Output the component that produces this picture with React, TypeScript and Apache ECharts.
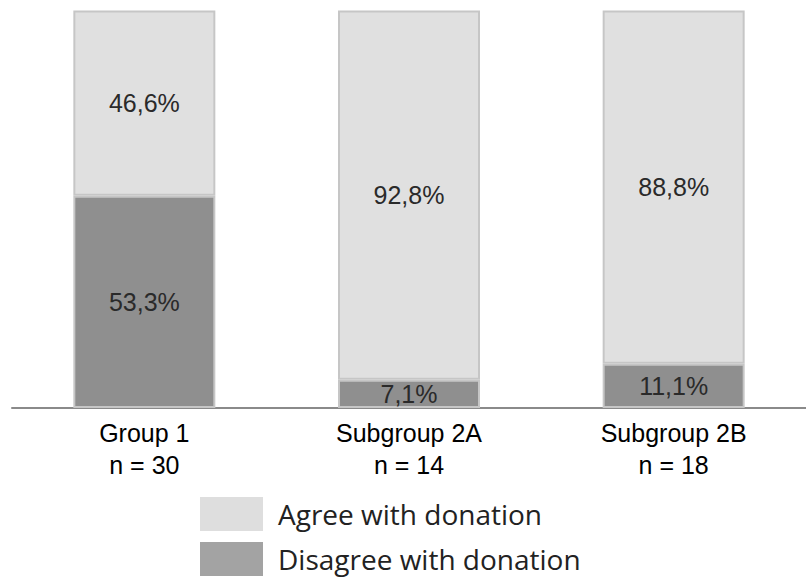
import React, { useEffect, useRef } from "react";
import * as echarts from "echarts";

const categories = ["Group 1", "Subgroup 2A", "Subgroup 2B"];
const sampleSizes = [30, 14, 18];
const agreeValues = [46.6, 92.8, 88.8];
const disagreeValues = [53.3, 7.1, 11.1];
const seriesNames = ["Agree with donation", "Disagree with donation"];

const fmt = (v: number) => v.toFixed(1).replace(".", ",") + "%";

export default function App() {
  const ref = useRef<HTMLDivElement>(null);
  useEffect(() => {
    if (!ref.current) return;
    const chart = echarts.init(ref.current, undefined, { renderer: "svg" });
    const labelStyle = {
      show: true,
      position: "inside" as const,
      fontSize: 25,
      fontFamily: "Liberation Sans, Arial, sans-serif",
      color: "#2a2a2a",
      formatter: (p: any) => fmt(p.value),
    };
    chart.setOption({
      animation: false,
      backgroundColor: "#ffffff",
      grid: { left: 12, width: 803, top: 10, height: 398 },
      xAxis: {
        type: "category",
        data: categories.map((c, i) => c + "\nn = " + sampleSizes[i]),
        axisLine: { show: true, lineStyle: { color: "#8a8a8a", width: 2 } },
        axisTick: { show: false },
        axisLabel: {
          margin: 9,
          fontSize: 25,
          lineHeight: 32,
          color: "#000",
          fontFamily: "Liberation Sans, Arial, sans-serif",
        },
      },
      yAxis: {
        type: "value",
        min: 0,
        max: 100,
        show: false,
        splitLine: { show: false },
      },
      legend: {
        orient: "vertical",
        left: 200,
        top: 497,
        padding: 0,
        itemWidth: 63,
        itemHeight: 34,
        itemGap: 11,
        icon: "rect",
        data: [
          { name: seriesNames[0], itemStyle: { color: "#dedede", borderWidth: 0 } },
          { name: seriesNames[1], itemStyle: { color: "#a3a3a3", borderWidth: 0 } },
        ],
        textStyle: {
          fontSize: 28,
          color: "#222",
          fontFamily: "Open Sans, sans-serif",
          padding: [0, 0, 0, 10],
        },
      },
      series: [
        {
          name: seriesNames[1],
          type: "bar",
          stack: "total",
          barWidth: 142,
          data: disagreeValues,
          itemStyle: { color: "#8f8f8f", borderColor: "#c6c6c6", borderWidth: 2 },
          label: labelStyle,
        },
        {
          name: seriesNames[0],
          type: "bar",
          stack: "total",
          barWidth: 142,
          data: agreeValues,
          itemStyle: { color: "#e0e0e0", borderColor: "#c6c6c6", borderWidth: 2 },
          label: labelStyle,
        },
      ],
    });
    return () => chart.dispose();
  }, []);
  return (
    <div
      ref={ref}
      style={{ position: "fixed", left: 0, top: 0, width: 806, height: 579 }}
    />
  );
}
